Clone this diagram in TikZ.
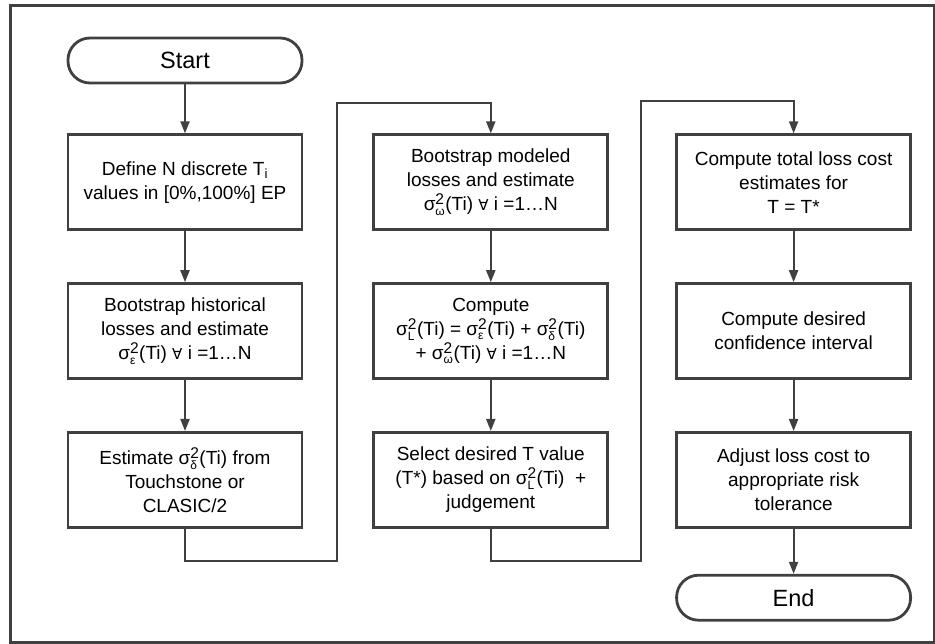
\documentclass[tikz,border=0pt]{standalone}
\usepackage{fontspec}
\usepackage{amsmath}
\setmainfont{Liberation Sans}
\newfontfamily\symbolfont{DejaVu Sans}
\usetikzlibrary{positioning, arrows.meta, calc}
\definecolor{linegrey}{HTML}{404040}
\newcommand{\sig}[1]{σ$^{\text{\fontsize{15.5}{15.5}\selectfont 2}}_{\text{\fontsize{12}{12}\selectfont #1}}$}
\newcommand{\fa}{{\symbolfont\fontsize{15}{15}\selectfont ∀}}

\begin{document}
\begin{tikzpicture}[x=1pt, y=1pt,
    procnode/.style={rectangle, draw=linegrey, line width=2.8pt, minimum width=234pt, minimum height=95pt, inner sep=1pt, align=center, font=\fontsize{19}{24}\selectfont},
    termnode/.style={rectangle, rounded corners=22pt, draw=linegrey, line width=2.8pt, minimum width=234pt, minimum height=45pt, font=\fontsize{23.5}{26}\selectfont},
    flowline/.style={draw=linegrey, line width=2pt, -{Triangle[length=12pt, width=9pt]}}
]
\useasboundingbox (0,0) rectangle (935,-644);
\draw[draw=linegrey, line width=3pt] (10,-6) rectangle (934,-642);

\node[termnode](start) at (185,-60.5){Start};
\node[procnode](n1)[below = 49pt of start]{Define N discrete T\textsubscript{i}\\values in [0\%,100\%] EP};
\node[procnode](n2)[below = 51pt of n1]{Bootstrap historical\\losses and estimate\\\sig{ε}(Ti) \fa{} i =1…N};
\node[procnode](n3)[below = 51pt of n2]{Estimate \sig{δ}(Ti) from\\Touchstone or\\CLASIC/2};

\node[procnode](n4)[right = 69pt of n1]{Bootstrap modeled\\losses and estimate\\\sig{ω}(Ti) \fa{} i =1…N};
\node[procnode](n5)[right = 69pt of n2]{Compute\\\sig{L}(Ti) = \sig{ε}(Ti) + \sig{δ}(Ti)\\+ \sig{ω}(Ti) \fa{} i =1…N};
\node[procnode](n6)[right = 69pt of n3]{Select desired T value\\(T*) based on \sig{L}(Ti)~ +\\judgement};

\node[procnode](n7)[right = 66pt of n4]{Compute total loss cost\\estimates for\\T = T*};
\node[procnode](n8)[right = 66pt of n5]{Compute desired\\confidence interval};
\node[procnode](n9)[right = 66pt of n6]{Adjust loss cost to\\appropriate risk\\tolerance};
\node[termnode](stop)[below = 45pt of n9]{End};

\draw[flowline] (start) -- (n1);
\draw[flowline] (n1) -- (n2);
\draw[flowline] (n2) -- (n3);
\draw[flowline] (n3.south) |- ($(n3.south)+(152,-32)$) |- ($(n4.north)+(0,30)$) -- (n4.north);
\draw[flowline] (n4) -- (n5);
\draw[flowline] (n5) -- (n6);
\draw[flowline] (n6.south) |- ($(n6.south)+(150,-32)$) |- ($(n7.north)+(0,32)$) -- (n7.north);
\draw[flowline] (n7) -- (n8);
\draw[flowline] (n8) -- (n9);
\draw[flowline] (n9) -- (stop);
\end{tikzpicture}
\end{document}
